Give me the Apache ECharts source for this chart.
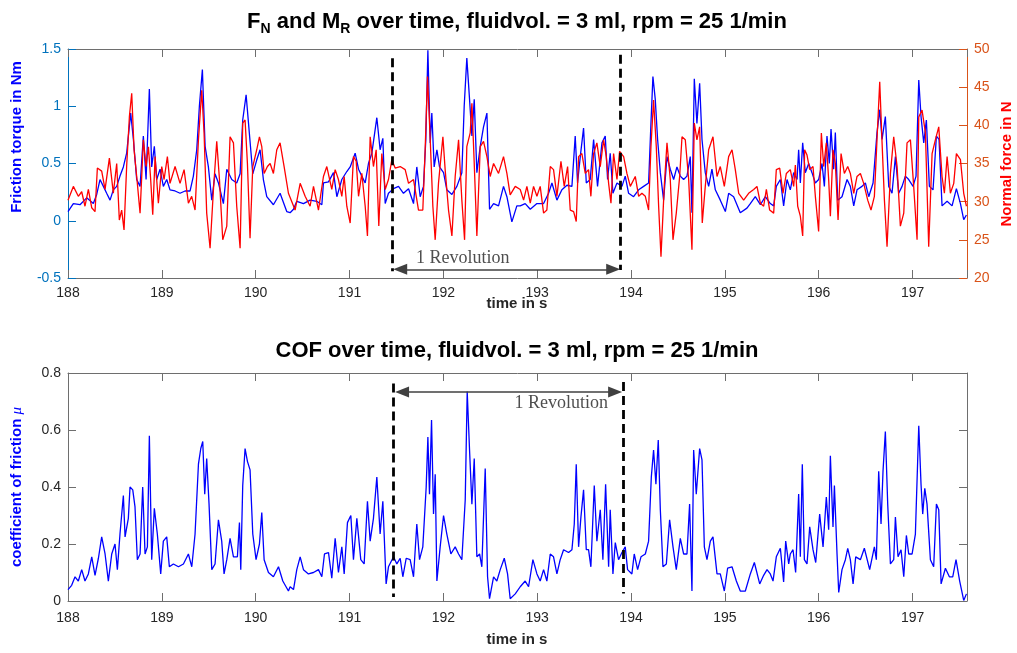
<!DOCTYPE html>
<html><head><meta charset="utf-8">
<script src="https://cdn.jsdelivr.net/npm/echarts/dist/echarts.min.js"></script>
<style>html,body{margin:0;padding:0;background:#fff}#c{width:1017px;height:653px}</style>
</head><body><div id="c"></div>
<script>
// ---- data (time in s) ----
const xTicks = [188,189,190,191,192,193,194,195,196,197];
const torqueT = [188.000,188.057,188.128,188.199,188.270,188.306,188.341,188.377,188.412,188.448,188.483,188.519,188.554,188.590,188.625,188.668,188.697,188.732,188.768,188.803,188.832,188.867,188.892,188.920,188.945,188.981,189.016,189.052,189.087,189.141,189.194,189.247,189.301,189.336,189.372,189.400,189.432,189.461,189.496,189.532,189.567,189.603,189.656,189.692,189.745,189.798,189.834,189.862,189.898,189.933,189.969,190.011,190.047,190.082,190.118,190.189,190.260,190.331,
190.367,190.403,190.438,190.509,190.580,190.651,190.705,190.722,190.776,190.829,190.865,190.918,190.971,191.007,191.060,191.096,191.131,191.167,191.202,191.238,191.291,191.326,191.355,191.380,191.415,191.469,191.522,191.575,191.629,191.682,191.717,191.753,191.788,191.813,191.835,191.860,191.877,191.902,191.931,191.959,192.002,192.037,192.091,192.144,192.197,192.222,192.250,192.279,192.304,192.329,192.357,192.393,192.428,192.464,192.492,192.535,192.588,192.641,192.677,192.730,192.783,
192.819,192.872,192.926,192.997,193.068,193.121,193.157,193.210,193.263,193.317,193.370,193.405,193.430,193.459,193.494,193.523,193.565,193.601,193.643,193.690,193.725,193.750,193.778,193.807,193.850,193.903,193.938,193.974,194.027,194.081,194.134,194.187,194.212,194.233,194.258,194.283,194.312,194.347,194.383,194.418,194.454,194.489,194.525,194.560,194.596,194.631,194.649,194.674,194.702,194.731,194.756,194.791,194.827,194.862,194.898,194.951,195.005,195.040,195.093,195.164,195.235,
195.271,195.324,195.378,195.431,195.484,195.520,195.548,195.591,195.626,195.662,195.697,195.733,195.769,195.786,195.804,195.829,195.857,195.893,195.928,195.964,195.999,196.035,196.060,196.088,196.113,196.131,196.159,196.177,196.202,196.248,196.302,196.337,196.373,196.408,196.461,196.497,196.533,196.579,196.621,196.650,196.675,196.710,196.746,196.781,196.817,196.852,196.888,196.923,196.959,197.005,197.037,197.066,197.090,197.119,197.147,197.179,197.218,197.254,197.282,197.314,197.368,197.421,197.467,197.510,197.545,197.574];
const torqueV = [0.08,0.15,0.14,0.20,0.15,0.23,0.36,0.30,0.24,0.18,0.27,0.30,0.39,0.47,0.59,0.94,0.71,0.36,0.30,0.74,0.36,1.15,0.47,0.65,0.36,0.45,0.30,0.36,0.27,0.26,0.24,0.26,0.26,0.39,0.62,1.00,1.32,0.65,0.47,0.18,0.41,0.33,0.15,0.45,0.36,0.33,0.41,0.88,1.10,0.76,0.41,0.53,0.62,0.36,0.21,0.14,0.24,0.08,
0.07,0.10,0.17,0.15,0.18,0.17,0.14,0.33,0.34,0.42,0.21,0.36,0.43,0.47,0.59,0.45,0.39,0.33,0.50,0.59,0.90,0.62,0.72,0.15,0.24,0.28,0.30,0.24,0.28,0.15,0.47,0.21,0.30,0.71,1.49,0.68,0.94,0.47,0.62,0.47,0.42,0.27,0.23,0.30,0.42,1.00,1.42,1.06,0.74,1.06,0.42,0.65,0.82,0.94,0.10,0.15,0.13,0.30,0.21,-0.01,0.13,
0.13,0.15,0.10,0.15,0.15,0.24,0.33,0.18,0.27,0.31,0.30,0.74,0.33,0.56,0.81,0.33,0.36,0.71,0.30,0.68,0.74,0.36,0.59,0.24,0.33,0.30,0.39,0.24,0.21,0.27,0.30,0.33,0.85,1.26,1.06,0.71,0.42,0.18,0.56,0.45,0.36,0.47,0.39,0.36,0.39,0.56,0.07,1.24,0.85,1.20,0.71,0.42,0.30,0.45,0.27,0.18,0.08,0.24,0.21,0.07,0.11,
0.15,0.21,0.14,0.21,0.15,0.13,0.30,0.36,0.13,0.36,0.27,0.42,0.36,0.62,0.33,0.68,0.42,0.50,0.42,0.33,0.36,0.50,0.30,0.74,0.50,0.80,0.45,0.77,0.18,0.21,0.36,0.30,0.13,0.27,0.30,0.33,0.21,0.33,0.77,0.97,0.71,0.91,0.30,0.24,0.56,0.24,0.30,0.39,0.36,0.30,0.39,1.23,0.91,0.68,0.88,0.30,0.27,0.74,0.71,0.13,0.17,0.13,0.28,0.15,0.01,0.05];

const forceT = [188.000,188.057,188.110,188.146,188.181,188.217,188.253,188.288,188.313,188.359,188.395,188.441,188.483,188.519,188.547,188.572,188.597,188.625,188.654,188.679,188.704,188.732,188.768,188.803,188.832,188.857,188.881,188.903,188.928,188.963,188.999,189.024,189.059,189.087,189.141,189.194,189.237,189.283,189.318,189.354,189.390,189.425,189.450,189.478,189.514,189.550,189.585,189.614,189.649,189.692,189.727,189.763,189.798,189.834,189.862,189.887,189.912,189.940,189.969,190.011,190.040,190.065,190.090,190.125,190.154,190.189,190.225,190.260,190.303,190.349,
190.420,190.474,190.527,190.580,190.616,190.669,190.722,190.758,190.811,190.847,190.882,190.918,190.943,190.971,191.007,191.042,191.071,191.096,191.131,191.167,191.191,191.220,191.255,191.284,191.312,191.344,191.380,191.415,191.451,191.486,191.540,191.593,191.629,191.682,191.735,191.781,191.806,191.831,191.860,191.888,191.913,191.948,191.995,192.019,192.055,192.091,192.126,192.162,192.197,192.226,192.250,192.286,192.304,192.329,192.357,192.393,192.428,192.464,192.499,192.535,192.588,192.641,192.677,192.712,192.766,
192.819,192.855,192.890,192.926,192.961,192.997,193.032,193.068,193.103,193.139,193.174,193.210,193.253,193.288,193.324,193.352,193.388,193.416,193.441,193.476,193.512,193.547,193.572,193.601,193.636,193.672,193.707,193.736,193.761,193.786,193.814,193.850,193.878,193.921,193.956,193.992,194.045,194.081,194.116,194.152,194.187,194.212,194.240,194.269,194.294,194.319,194.354,194.383,194.418,194.447,194.482,194.518,194.543,194.578,194.614,194.649,194.674,194.702,194.731,194.759,194.791,194.827,194.873,194.916,194.951,194.994,195.040,195.076,195.111,195.147,195.200,195.253,
195.307,195.342,195.378,195.413,195.442,195.477,195.520,195.548,195.584,195.619,195.655,195.697,195.733,195.751,195.776,195.804,195.829,195.850,195.875,195.904,195.939,195.964,195.999,196.028,196.053,196.081,196.106,196.124,196.152,196.177,196.206,196.238,196.273,196.309,196.337,196.373,196.408,196.444,196.479,196.522,196.557,196.593,196.621,196.650,196.675,196.700,196.728,196.764,196.799,196.835,196.870,196.906,196.941,196.977,197.012,197.048,197.066,197.101,197.137,197.172,197.208,197.243,197.279,197.314,197.339,197.368,197.403,197.439,197.467,197.510,197.545,197.574];
const forceV = [30.2,32.0,30.7,31.3,29.4,31.6,29.2,28.7,34.4,34.0,31.6,35.7,31.1,35.0,27.6,28.9,26.3,34.6,41.1,44.2,36.8,33.3,28.5,38.1,34.6,37.2,32.9,28.3,35.9,29.8,34.6,32.9,35.9,32.4,34.6,32.4,34.2,29.8,30.7,28.9,38.1,44.6,39.0,28.5,23.9,31.6,37.9,32.9,25.0,26.8,38.5,37.7,29.4,23.9,40.3,40.7,35.0,25.2,34.6,36.8,38.5,37.2,33.7,34.6,35.0,33.7,36.8,37.7,34.6,31.1,
28.9,32.4,30.7,29.4,32.0,28.9,33.3,34.6,31.6,34.2,32.9,30.7,33.3,29.4,27.2,35.9,35.3,30.7,33.7,29.4,25.5,38.5,34.6,36.8,26.8,36.3,31.6,32.9,35.5,34.4,34.6,34.2,32.4,32.9,28.9,28.9,36.8,46.4,38.1,29.4,25.0,32.4,38.5,34.2,28.9,25.5,33.3,38.1,30.2,25.0,37.2,39.0,42.9,35.0,25.5,37.2,37.9,35.9,33.3,35.0,33.7,35.9,33.7,30.9,32.0,
31.6,30.2,32.0,29.8,32.0,30.7,32.0,28.5,28.9,34.6,34.2,30.7,35.3,32.0,34.6,28.9,28.7,27.4,35.9,36.3,33.7,34.2,30.7,36.3,37.7,34.6,38.1,35.9,32.4,29.8,36.3,32.9,36.6,35.9,33.7,32.0,33.3,30.7,31.1,30.7,28.9,37.2,43.3,37.2,29.4,22.8,32.0,37.7,32.9,25.0,28.5,33.3,38.5,38.1,32.9,23.7,40.3,38.1,39.8,27.2,32.0,36.8,38.5,33.3,34.6,32.0,35.9,36.8,34.2,31.1,30.2,31.1,
31.6,32.0,29.8,29.4,31.6,28.9,28.5,34.2,34.4,31.1,33.7,34.2,32.0,34.8,29.4,28.1,25.5,36.8,36.1,34.2,34.6,30.7,26.1,39.0,34.6,37.7,32.9,28.1,36.8,35.0,27.6,36.3,33.7,34.6,33.7,31.1,33.3,33.7,32.4,30.2,28.9,30.7,38.1,45.7,37.7,30.2,24.1,33.7,38.5,34.6,26.8,28.5,37.7,38.1,32.0,25.0,41.1,42.0,39.0,24.1,36.3,38.1,39.8,33.3,31.1,35.9,31.1,32.4,36.3,35.5,31.1,29.4];

const cofT = [188.000,188.039,188.075,188.110,188.146,188.181,188.217,188.253,188.288,188.324,188.359,188.395,188.430,188.466,188.501,188.526,188.554,188.590,188.608,188.643,188.661,188.690,188.714,188.739,188.768,188.796,188.821,188.846,188.867,188.892,188.920,188.952,188.988,189.016,189.052,189.080,189.123,189.177,189.230,189.283,189.319,189.354,189.390,189.415,189.436,189.457,189.478,189.503,189.532,189.567,189.603,189.638,189.663,189.692,189.727,189.763,189.805,189.827,189.841,189.862,189.887,189.912,189.940,189.969,190.004,190.040,190.065,190.090,190.136,190.189,190.243,190.289,190.349,
190.367,190.403,190.438,190.474,190.509,190.562,190.616,190.669,190.705,190.733,190.776,190.811,190.847,190.882,190.918,190.943,190.978,191.014,191.042,191.078,191.120,191.156,191.191,191.220,191.255,191.291,191.326,191.355,191.390,191.415,191.469,191.504,191.540,191.568,191.604,191.646,191.682,191.717,191.746,191.781,191.817,191.835,191.852,191.874,191.895,191.913,191.931,191.966,192.002,192.037,192.080,192.126,192.162,192.197,192.233,192.254,192.279,192.304,192.329,192.357,192.386,192.410,192.446,192.471,192.492,192.535,192.570,192.606,192.649,192.684,192.712,192.766,
192.819,192.872,192.908,192.954,192.997,193.032,193.068,193.103,193.139,193.174,193.210,193.245,193.281,193.334,193.370,193.395,193.416,193.441,193.466,193.494,193.523,193.547,193.572,193.608,193.636,193.672,193.700,193.729,193.761,193.778,193.807,193.832,193.867,193.903,193.938,193.963,194.009,194.034,194.070,194.106,194.152,194.187,194.216,194.240,194.265,194.290,194.312,194.340,194.376,194.411,194.447,194.482,194.525,194.560,194.596,194.624,194.649,194.667,194.695,194.731,194.756,194.781,194.809,194.845,194.873,194.916,194.951,194.994,195.029,195.076,195.122,195.164,195.218,
195.271,195.314,195.371,195.413,195.449,195.484,195.513,195.548,195.591,195.626,195.648,195.680,195.697,195.726,195.754,195.786,195.804,195.825,195.847,195.875,195.904,195.939,195.968,196.010,196.046,196.081,196.106,196.124,196.152,196.167,196.195,196.213,196.248,196.284,196.309,196.337,196.366,196.394,196.444,196.486,196.543,196.593,196.614,196.639,196.664,196.685,196.710,196.735,196.764,196.799,196.817,196.845,196.877,196.906,196.934,196.959,196.995,197.030,197.066,197.090,197.108,197.130,197.154,197.190,197.225,197.254,197.279,197.304,197.350,197.392,197.428,197.463,197.502,197.545,197.574];
const cofV = [0.040,0.055,0.085,0.070,0.110,0.070,0.095,0.155,0.090,0.150,0.225,0.165,0.070,0.165,0.200,0.110,0.235,0.370,0.225,0.290,0.400,0.390,0.330,0.145,0.165,0.400,0.165,0.190,0.580,0.145,0.325,0.235,0.095,0.210,0.225,0.120,0.130,0.120,0.130,0.165,0.120,0.235,0.480,0.535,0.560,0.375,0.500,0.340,0.110,0.130,0.285,0.210,0.095,0.145,0.220,0.155,0.155,0.275,0.110,0.405,0.535,0.490,0.460,0.235,0.145,0.200,0.310,0.145,0.100,0.085,0.120,0.070,0.035,
0.050,0.040,0.110,0.155,0.110,0.095,0.100,0.110,0.085,0.165,0.170,0.080,0.220,0.100,0.190,0.095,0.275,0.300,0.145,0.290,0.145,0.130,0.350,0.210,0.290,0.435,0.235,0.350,0.060,0.120,0.155,0.130,0.150,0.085,0.150,0.145,0.085,0.270,0.145,0.190,0.400,0.575,0.375,0.635,0.305,0.445,0.070,0.190,0.300,0.235,0.165,0.190,0.165,0.145,0.355,0.735,0.530,0.340,0.500,0.155,0.165,0.120,0.465,0.085,0.008,0.085,0.070,0.110,0.150,0.095,0.008,0.025,
0.050,0.070,0.050,0.145,0.095,0.070,0.110,0.070,0.165,0.155,0.095,0.145,0.180,0.170,0.180,0.270,0.480,0.190,0.295,0.390,0.180,0.180,0.120,0.405,0.210,0.320,0.145,0.410,0.120,0.320,0.095,0.205,0.145,0.170,0.190,0.110,0.095,0.165,0.110,0.155,0.165,0.210,0.435,0.530,0.410,0.565,0.320,0.120,0.130,0.285,0.190,0.110,0.220,0.165,0.165,0.340,0.035,0.530,0.375,0.535,0.495,0.190,0.145,0.210,0.225,0.095,0.095,0.035,0.115,0.120,0.070,0.035,0.035,
0.095,0.135,0.060,0.090,0.110,0.095,0.070,0.155,0.185,0.067,0.210,0.130,0.165,0.180,0.100,0.375,0.155,0.480,0.145,0.130,0.260,0.180,0.135,0.305,0.190,0.365,0.250,0.510,0.260,0.405,0.165,0.030,0.110,0.145,0.185,0.145,0.060,0.155,0.145,0.185,0.110,0.190,0.145,0.455,0.270,0.455,0.595,0.340,0.130,0.145,0.295,0.155,0.180,0.085,0.230,0.165,0.165,0.235,0.615,0.410,0.305,0.395,0.340,0.145,0.120,0.340,0.320,0.060,0.115,0.085,0.085,0.145,0.070,0.002,0.025];

// annotation positions (data units)
const revStart = [191.46, 191.47];
const revEnd = [193.88, 193.92];

// ---- chart ----
const zip = (a, b) => a.map((t, i) => [t, b[i]]);
const FONT = 'Liberation Sans';
const GRAY = '#6e6e6e';
const DARK = '#262626';
const BLUE = '#0072BD';
const ORANGE = '#D95319';

function xAxis(grid, pos, labels, margin) {
  return {
    type: 'value', gridIndex: grid, position: pos, min: 188, max: 197.58, interval: 1,
    axisLine: { show: true, onZero: false, lineStyle: { color: GRAY, width: 1 } },
    axisTick: { show: true, inside: true, length: 8, lineStyle: { color: GRAY } },
    axisLabel: { show: labels, color: DARK, fontSize: 14, fontFamily: FONT, margin: margin,
      formatter: v => (Math.abs(v - Math.round(v)) < 1e-6 && xTicks.indexOf(Math.round(v)) >= 0) ? String(Math.round(v)) : '' },
    splitLine: { show: false }
  };
}
function yAxis(grid, pos, min, max, interval, color, labelColor, labels) {
  return {
    type: 'value', gridIndex: grid, position: pos, min: min, max: max, interval: interval,
    axisLine: { show: true, onZero: false, lineStyle: { color: color, width: 1 } },
    axisTick: { show: true, inside: true, length: 8, lineStyle: { color: color } },
    axisLabel: { show: labels, color: labelColor, fontSize: 14, fontFamily: FONT, margin: 7 },
    splitLine: { show: false }
  };
}

const dashStyle = { color: '#000', width: 2.8, type: [9, 5] };
const arrowStyle = { color: '#404040', width: 1.5, type: 'solid' };

const option = {
  animation: false,
  backgroundColor: '#fff',
  title: [
    { left: 517, top: 11, textAlign: 'center', padding: 0,
      text: '{a|F}{s|N}{a| and M}{s|R}{a| over time, fluidvol. = 3 ml, rpm = 25 1/min}',
      textStyle: { rich: {
        a: { fontSize: 22, fontWeight: 'bold', fontFamily: FONT, color: '#000', lineHeight: 24, verticalAlign: 'top' },
        s: { fontSize: 14, fontWeight: 'bold', fontFamily: FONT, color: '#000', lineHeight: 17, padding: [11, 0, 0, 0], verticalAlign: 'top' }
      } } },
    { left: 517, top: 339, textAlign: 'center', padding: 0,
      text: 'COF over time, fluidvol. = 3 ml, rpm = 25 1/min',
      textStyle: { fontSize: 22, fontWeight: 'bold', fontFamily: FONT, color: '#000', lineHeight: 24 } }
  ],
  grid: [
    { left: 68, right: 50, top: 49, height: 229 },
    { left: 68, right: 50, top: 373, height: 228 }
  ],
  xAxis: [ xAxis(0, 'bottom', true, 8), xAxis(0, 'top', false, 8), xAxis(1, 'bottom', true, 10), xAxis(1, 'top', false, 8) ],
  yAxis: [
    yAxis(0, 'left', -0.5, 1.5, 0.5, BLUE, BLUE, true),
    yAxis(0, 'right', 20, 50, 5, ORANGE, ORANGE, true),
    yAxis(1, 'left', 0, 0.8, 0.2, GRAY, DARK, true),
    yAxis(1, 'right', 0, 0.8, 0.2, GRAY, DARK, false)
  ],
  graphic: [
    { type: 'text', x: 17, y: 137, rotation: Math.PI / 2,
      style: { text: 'Friction torque in Nm', fill: '#0000FF', font: 'bold 15px "Liberation Sans"', textAlign: 'center', textVerticalAlign: 'middle' } },
    { type: 'text', x: 1007, y: 164, rotation: Math.PI / 2,
      style: { text: 'Normal force in N', fill: '#FF0000', font: 'bold 15px "Liberation Sans"', textAlign: 'center', textVerticalAlign: 'middle' } },
    { type: 'text', x: 17, y: 487, rotation: Math.PI / 2,
      style: { text: '{b|coefficient of friction }{m|μ}', fill: '#0000FF', textAlign: 'center', textVerticalAlign: 'middle',
        rich: { b: { font: 'bold 15px "Liberation Sans"', fill: '#0000FF' }, m: { font: 'italic 15px "Liberation Serif"', fill: '#0000FF' } } } },
    { type: 'text', x: 517, y: 304,
      style: { text: 'time in s', fill: DARK, font: 'bold 15px "Liberation Sans"', textAlign: 'center', textVerticalAlign: 'middle' } },
    { type: 'text', x: 517, y: 640,
      style: { text: 'time in s', fill: DARK, font: 'bold 15px "Liberation Sans"', textAlign: 'center', textVerticalAlign: 'middle' } }
  ],
  series: [
    { type: 'line', name: 'torque', xAxisIndex: 0, yAxisIndex: 0, data: zip(torqueT, torqueV),
      showSymbol: false, symbol: 'none', lineStyle: { color: '#0000FF', width: 1.3 }, z: 2,
      markLine: { silent: true, symbol: ['none', 'none'], label: { show: false }, lineStyle: dashStyle,
        data: [
          [{ coord: [revStart[0], 1.42] }, { coord: [revStart[0], -0.44] }],
          [{ coord: [revEnd[0], 1.45] }, { coord: [revEnd[0], -0.43] }]
        ] } },
    { type: 'line', name: 'force', xAxisIndex: 0, yAxisIndex: 1, data: zip(forceT, forceV),
      showSymbol: false, symbol: 'none', lineStyle: { color: '#FF0000', width: 1.3 }, z: 3 },
    { type: 'line', name: 'arrowTop', xAxisIndex: 0, yAxisIndex: 0, data: [], z: 5,
      markLine: { silent: true, symbol: ['triangle', 'triangle'], symbolSize: [11, 14], label: { show: false }, lineStyle: arrowStyle,
        itemStyle: { color: '#404040' },
        data: [[{ coord: [191.54, -0.424] }, { coord: [193.81, -0.424] }]] } },
    { type: 'scatter', name: 'revTop', xAxisIndex: 0, yAxisIndex: 0, data: [[192.206, -0.325]], symbolSize: 0, z: 6,
      label: { show: true, position: 'inside', formatter: '1 Revolution', color: '#222', fontFamily: 'Liberation Serif', fontSize: 18 } },
    { type: 'line', name: 'cof', xAxisIndex: 2, yAxisIndex: 2, data: zip(cofT, cofV),
      showSymbol: false, symbol: 'none', lineStyle: { color: '#0000FF', width: 1.3 }, z: 2,
      markLine: { silent: true, symbol: ['none', 'none'], label: { show: false }, lineStyle: dashStyle,
        data: [
          [{ coord: [revStart[1], 0.763] }, { coord: [revStart[1], 0.014] }],
          [{ coord: [revEnd[1], 0.768] }, { coord: [revEnd[1], 0.026] }]
        ] } },
    { type: 'line', name: 'arrowBot', xAxisIndex: 2, yAxisIndex: 2, data: [], z: 5,
      markLine: { silent: true, symbol: ['triangle', 'triangle'], symbolSize: [11, 14], label: { show: false }, lineStyle: arrowStyle,
        itemStyle: { color: '#404040' },
        data: [[{ coord: [191.56, 0.733] }, { coord: [193.83, 0.733] }]] } },
    { type: 'scatter', name: 'revBot', xAxisIndex: 2, yAxisIndex: 2, data: [[193.256, 0.695]], symbolSize: 0, z: 6,
      label: { show: true, position: 'inside', formatter: '1 Revolution', color: '#222', fontFamily: 'Liberation Serif', fontSize: 18 } }
  ]
};
const chart = echarts.init(document.getElementById('c'), null, { renderer: 'canvas' });
chart.setOption(option);
</script>
</body></html>
